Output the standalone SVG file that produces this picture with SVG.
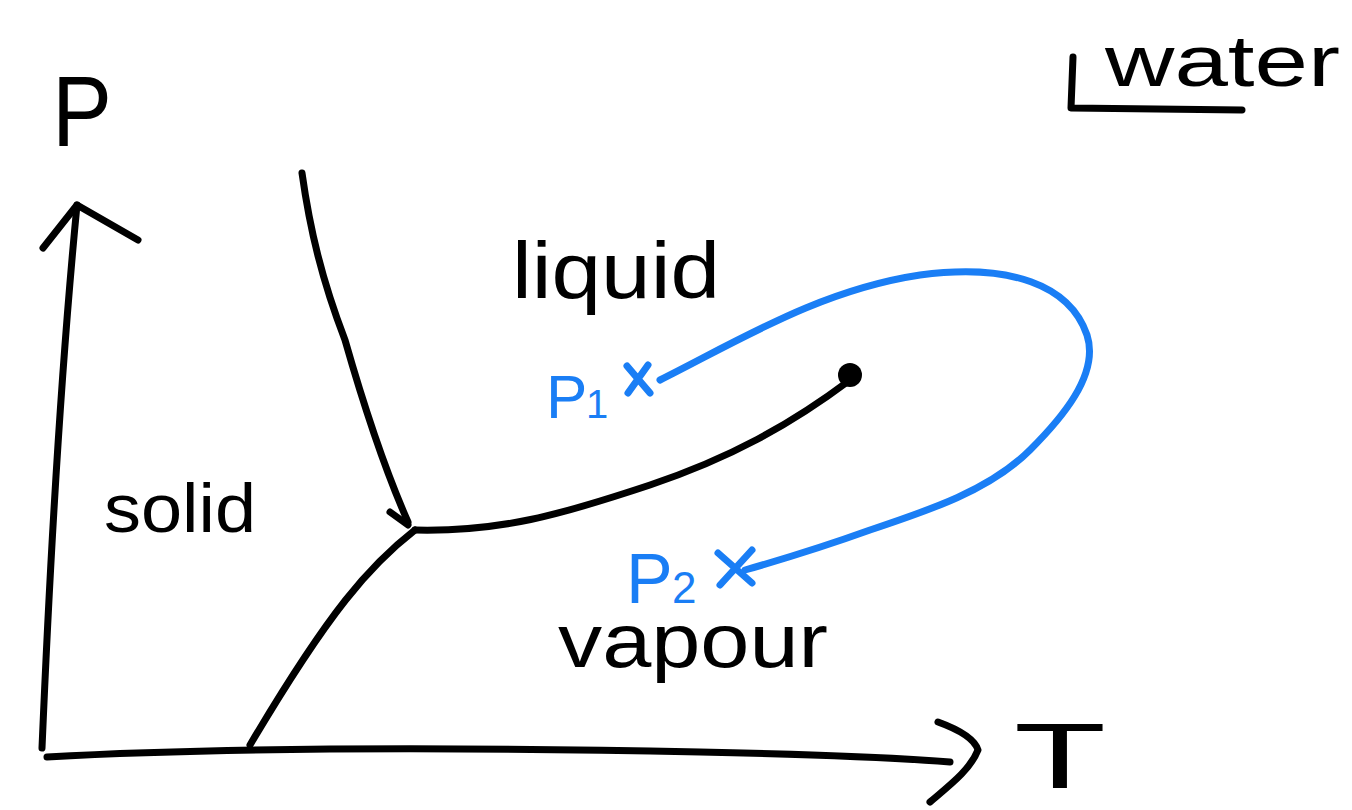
<svg xmlns="http://www.w3.org/2000/svg" width="1352" height="810" viewBox="0 0 1352 810">
<style>
.k{fill:none;stroke:#000;stroke-width:7;stroke-linecap:round;stroke-linejoin:round}
.b{fill:none;stroke:#1a7ef5;stroke-width:7;stroke-linecap:round;stroke-linejoin:round}
.t{font-family:"Liberation Sans",Arial,sans-serif;fill:#000}
.tb{font-family:"Liberation Sans",Arial,sans-serif;fill:#1a7ef5}
</style>
<rect width="1352" height="810" fill="#fff"/>
<g id="axes">
<path class="k" d="M42,748 C50,560 60,380 77,205"/>
<path class="k" d="M43,248 L77,205 L138,240"/>
<path class="k" d="M47,757 C250,746 500,748 700,752 C800,754 900,758 950,762"/>
<path class="k" d="M938,722 C960,730 975,740 978,750 C970,770 950,785 930,802"/>
</g>
<g id="label-P"><text class="t" x="52" y="146" font-size="100" textLength="60" lengthAdjust="spacingAndGlyphs">P</text></g>
<g id="label-T"><text class="t" x="1014" y="788" font-size="92" textLength="92" lengthAdjust="spacingAndGlyphs">T</text></g>
<g id="label-water">
<path class="k" d="M1073,57 L1071,108 L1242,110"/>
<text class="t" x="1105" y="86" font-size="72" textLength="235" lengthAdjust="spacingAndGlyphs">water</text>
</g>
<g id="curves">
<path class="k" d="M302,173 C310,230 322,280 345,340 C365,410 385,470 408,522"/>
<path class="k" d="M390,512 L408,525"/>
<path class="k" d="M415,530 C370,565 330,610 250,745"/>
<path class="k" d="M415,530 C500,532 560,515 650,485 C730,458 790,425 850,380"/>
<circle cx="850" cy="375" r="12" fill="#000"/>
</g>
<g id="path-blue">
<path class="b" d="M660,380 C740,340 820,290 920,275 C1010,263 1070,285 1087,335 C1100,375 1060,420 1030,450 C990,490 930,510 870,530 C820,548 780,560 745,570"/>
</g>
<g id="label-liquid"><text class="t" x="512" y="298" font-size="80" textLength="208" lengthAdjust="spacingAndGlyphs">liquid</text></g>
<g id="label-solid"><text class="t" x="104" y="532" font-size="68" textLength="152" lengthAdjust="spacingAndGlyphs">solid</text></g>
<g id="label-vapour"><text class="t" x="558" y="667" font-size="76" textLength="270" lengthAdjust="spacingAndGlyphs">vapour</text></g>
<g id="P1">
<text class="tb" x="546" y="418" font-size="62">P</text>
<text class="tb" x="586" y="418" font-size="40">1</text>
<path class="b" d="M627,366 L650,393 M648,365 L628,393"/>
</g>
<g id="P2">
<text class="tb" x="626" y="603" font-size="70">P</text>
<text class="tb" x="672" y="603" font-size="44">2</text>
<path class="b" d="M718,553 L752,583 M752,550 L720,585"/>
</g>
</svg>
